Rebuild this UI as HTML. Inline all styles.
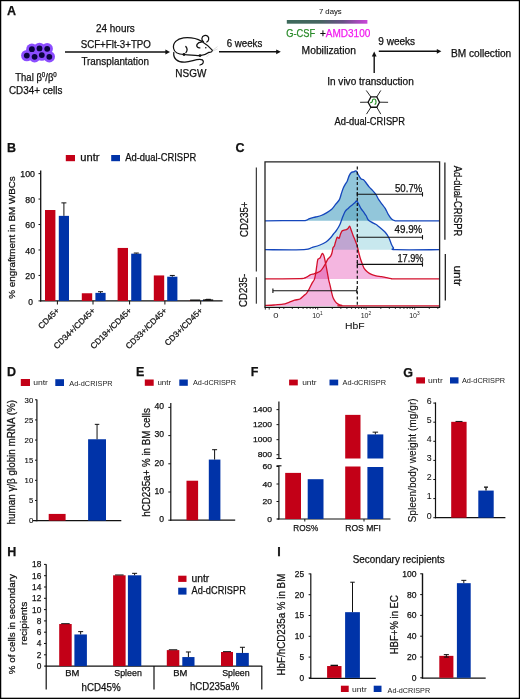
<!DOCTYPE html>
<html><head><meta charset="utf-8"><style>
html,body{margin:0;padding:0;background:#fff;}
svg{display:block;will-change:transform;}
text{font-family:"Liberation Sans", sans-serif;}
</style></head><body>
<svg width="520" height="699" viewBox="0 0 520 699" font-family='"Liberation Sans", sans-serif'>
<rect width="520" height="699" fill="#fff"/>
<text x="7.00" y="15.20" font-size="12.5" font-weight="bold" fill="#111" stroke="#111" stroke-width="0.25">A</text>
<circle cx="26.8" cy="55.6" r="5.7" fill="#8C4DFF"/>
<circle cx="34.6" cy="56.8" r="5.7" fill="#8C4DFF"/>
<circle cx="41.8" cy="55.1" r="5.7" fill="#8C4DFF"/>
<circle cx="49.3" cy="56.8" r="5.7" fill="#8C4DFF"/>
<circle cx="31.9" cy="49.2" r="5.7" fill="#8C4DFF"/>
<circle cx="39.5" cy="48.4" r="5.7" fill="#8C4DFF"/>
<circle cx="47.2" cy="48.8" r="5.7" fill="#8C4DFF"/>
<circle cx="26.8" cy="55.6" r="2.9" fill="#0B0440"/>
<circle cx="34.6" cy="56.8" r="2.9" fill="#0B0440"/>
<circle cx="41.8" cy="55.1" r="2.9" fill="#0B0440"/>
<circle cx="49.3" cy="56.8" r="2.9" fill="#0B0440"/>
<circle cx="31.9" cy="49.2" r="2.9" fill="#0B0440"/>
<circle cx="39.5" cy="48.4" r="2.9" fill="#0B0440"/>
<circle cx="47.2" cy="48.8" r="2.9" fill="#0B0440"/>
<text x="15.30" y="80.60" font-size="10" textLength="41.50" lengthAdjust="spacingAndGlyphs" fill="#111" stroke="#111" stroke-width="0.25">Thal β<tspan font-size="6.5" dy="-3.8">0</tspan><tspan dy="3.8">/β</tspan><tspan font-size="6.5" dy="-3.8">0</tspan></text>
<text x="8.90" y="94.40" font-size="10" textLength="53.50" lengthAdjust="spacingAndGlyphs" fill="#111" stroke="#111" stroke-width="0.25">CD34+ cells</text>
<line x1="65.00" y1="52.00" x2="167.00" y2="52.00" stroke="#111" stroke-width="1.4"/>
<path d="M170,52 L165.4,49.6 L165.4,54.4 Z" fill="#111"/>
<text x="96.00" y="31.90" font-size="10" textLength="38.70" lengthAdjust="spacingAndGlyphs" fill="#111" stroke="#111" stroke-width="0.25">24 hours</text>
<text x="80.70" y="48.10" font-size="10" textLength="70.20" lengthAdjust="spacingAndGlyphs" fill="#111" stroke="#111" stroke-width="0.25">SCF+Flt-3+TPO</text>
<text x="81.40" y="65.00" font-size="10" textLength="67.60" lengthAdjust="spacingAndGlyphs" fill="#111" stroke="#111" stroke-width="0.25">Transplantation</text>
<g fill="none" stroke="#111" stroke-width="1.25" stroke-linecap="round" stroke-linejoin="round"><path d="M201.5,41.2 C197,38.5 190,37.2 183.5,37.8 C177,38.6 172.5,43 173.6,48.5 C174.3,52 177.5,54.2 184,54.5 C190,55 196,55.6 200,55.6 C203.5,55.5 206.5,54.3 208.6,52.6"/><path d="M201.5,41.2 C205.5,43.5 209.5,47 212.5,50.4 C212,52.2 210.2,52.6 208.6,52.3"/><path d="M203.5,41.8 C201.2,40.5 201.3,36.5 204.2,35.6 C207,34.8 209.3,37 208.6,39.6 C208.3,40.8 207.6,41.6 206.8,42"/><path d="M201.3,42.2 C197.5,42.3 195.6,45.6 197.6,47.3 C198.3,47.9 199.1,48 199.9,47.8"/><path d="M185.8,46.5 C187.3,48.3 187.2,51 185.9,52.6"/><path d="M173.8,52.5 C173,58.5 177.5,62.5 185,62.2 C192,61.7 197.5,58.2 202.3,59.8 C204.5,61.8 203,64.5 200,65"/></g>
<circle cx="184" cy="54.5" r="1.45" fill="#111"/><circle cx="200" cy="55.6" r="1.45" fill="#111"/>
<circle cx="205.8" cy="47.8" r="0.8" fill="#111"/>
<path d="M212.8,50.2 L217.5,46.6 M212.8,51 L217.5,49 M209.5,53.8 L206.5,57" stroke="#c8c8c8" stroke-width="0.6"/>
<text x="175.30" y="76.50" font-size="10" textLength="31.00" lengthAdjust="spacingAndGlyphs" fill="#111" stroke="#111" stroke-width="0.25">NSGW</text>
<text x="226.70" y="47.00" font-size="10" textLength="35.60" lengthAdjust="spacingAndGlyphs" fill="#111" stroke="#111" stroke-width="0.25">6 weeks</text>
<line x1="219.00" y1="51.80" x2="277.80" y2="51.80" stroke="#111" stroke-width="1.4"/>
<path d="M280.8,51.8 L276.2,49.4 L276.2,54.199999999999996 Z" fill="#111"/>
<defs><linearGradient id="gb" x1="0" x2="1" y1="0" y2="0"><stop offset="0" stop-color="#3D695B"/><stop offset="0.4" stop-color="#456560"/><stop offset="0.7" stop-color="#6A5088"/><stop offset="1" stop-color="#CC45DA"/></linearGradient></defs>
<rect x="286.80" y="20.00" width="80.60" height="3.70" fill="url(#gb)"/>
<text x="318.90" y="13.70" font-size="7.2" textLength="22.80" lengthAdjust="spacingAndGlyphs" fill="#111" stroke="#111" stroke-width="0.05">7 days</text>
<text x="286.20" y="36.70" font-size="10" textLength="28.90" lengthAdjust="spacingAndGlyphs" fill="#2A8A2A" stroke="#2A8A2A" stroke-width="0.25">G-CSF</text>
<text x="319.90" y="36.70" font-size="10" textLength="5.80" lengthAdjust="spacingAndGlyphs" fill="#111" stroke="#111" stroke-width="0.25">+</text>
<text x="325.70" y="36.70" font-size="10" textLength="44.60" lengthAdjust="spacingAndGlyphs" fill="#F21CF0" stroke="#F21CF0" stroke-width="0.25">AMD3100</text>
<text x="301.60" y="54.40" font-size="10" textLength="54.30" lengthAdjust="spacingAndGlyphs" fill="#111" stroke="#111" stroke-width="0.25">Mobilization</text>
<text x="378.30" y="45.00" font-size="10" textLength="36.80" lengthAdjust="spacingAndGlyphs" fill="#111" stroke="#111" stroke-width="0.25">9 weeks</text>
<line x1="378.80" y1="51.30" x2="438.40" y2="51.30" stroke="#111" stroke-width="1.4"/>
<path d="M441.4,51.3 L436.79999999999995,48.9 L436.79999999999995,53.699999999999996 Z" fill="#111"/>
<text x="451.00" y="56.50" font-size="10" textLength="60.20" lengthAdjust="spacingAndGlyphs" fill="#111" stroke="#111" stroke-width="0.25">BM collection</text>
<line x1="374.20" y1="73.00" x2="374.20" y2="55.00" stroke="#111" stroke-width="1.4"/>
<path d="M374.2,51.6 L371.8,56.4 L376.6,56.4 Z" fill="#111"/>
<text x="327.20" y="85.00" font-size="10" textLength="86.60" lengthAdjust="spacingAndGlyphs" fill="#111" stroke="#111" stroke-width="0.25">In vivo transduction</text>
<g stroke="#111" stroke-width="0.9" stroke-linecap="round"><line x1="368.1" y1="102.2" x2="360.5" y2="102.3"/><line x1="379.5" y1="102.2" x2="387.7" y2="102.3"/><line x1="370.9" y1="96.9" x2="366.5" y2="90.8"/><line x1="376.8" y1="96.9" x2="380.6" y2="90.8"/><line x1="370.9" y1="107.25" x2="366.7" y2="113.8"/><line x1="376.8" y1="107.25" x2="380.6" y2="113.8"/></g>
<polygon points="368.1,102.2 370.9,96.9 376.8,96.9 379.5,102.2 376.8,107.25 370.9,107.25" fill="#fff" stroke="#111" stroke-width="1.3"/>
<path d="M370.4,102.7 C372,102.7 372.5,101.5 372.5,100.3 C372.5,98.6 375.5,98.6 375.8,100.3 C376.2,102 376.3,103.5 375,104.3" fill="none" stroke="#1E8C1E" stroke-width="1.1" stroke-linecap="round"/>
<text x="334.50" y="125.40" font-size="10" textLength="70.60" lengthAdjust="spacingAndGlyphs" fill="#111" stroke="#111" stroke-width="0.25">Ad-dual-CRISPR</text>
<text x="7.00" y="151.50" font-size="12.5" font-weight="bold" fill="#111" stroke="#111" stroke-width="0.25">B</text>
<rect x="65.80" y="155.00" width="9.20" height="6.20" fill="#C30017"/>
<text x="80.30" y="160.80" font-size="10" textLength="19.20" lengthAdjust="spacingAndGlyphs" fill="#111" stroke="#111" stroke-width="0.25">untr</text>
<rect x="111.20" y="155.00" width="8.80" height="6.20" fill="#0033A8"/>
<text x="125.20" y="160.70" font-size="10" textLength="71.00" lengthAdjust="spacingAndGlyphs" fill="#111" stroke="#111" stroke-width="0.25">Ad-dual-CRISPR</text>
<line x1="40.70" y1="170.40" x2="40.70" y2="301.50" stroke="#111" stroke-width="1.3"/>
<line x1="40.10" y1="300.90" x2="222.60" y2="300.90" stroke="#111" stroke-width="1.3"/>
<line x1="38.50" y1="300.90" x2="40.70" y2="300.90" stroke="#111" stroke-width="1"/>
<text x="33.00" y="304.50" font-size="8.2" text-anchor="end" textLength="4.70" lengthAdjust="spacingAndGlyphs" fill="#111" stroke="#111" stroke-width="0.25">0</text>
<line x1="38.50" y1="275.44" x2="40.70" y2="275.44" stroke="#111" stroke-width="1"/>
<text x="35.00" y="279.04" font-size="8.2" text-anchor="end" textLength="9.70" lengthAdjust="spacingAndGlyphs" fill="#111" stroke="#111" stroke-width="0.25">20</text>
<line x1="38.50" y1="249.98" x2="40.70" y2="249.98" stroke="#111" stroke-width="1"/>
<text x="35.00" y="253.58" font-size="8.2" text-anchor="end" textLength="9.70" lengthAdjust="spacingAndGlyphs" fill="#111" stroke="#111" stroke-width="0.25">40</text>
<line x1="38.50" y1="224.52" x2="40.70" y2="224.52" stroke="#111" stroke-width="1"/>
<text x="35.00" y="228.12" font-size="8.2" text-anchor="end" textLength="9.70" lengthAdjust="spacingAndGlyphs" fill="#111" stroke="#111" stroke-width="0.25">60</text>
<line x1="38.50" y1="199.06" x2="40.70" y2="199.06" stroke="#111" stroke-width="1"/>
<text x="35.00" y="202.66" font-size="8.2" text-anchor="end" textLength="9.70" lengthAdjust="spacingAndGlyphs" fill="#111" stroke="#111" stroke-width="0.25">80</text>
<line x1="38.50" y1="173.60" x2="40.70" y2="173.60" stroke="#111" stroke-width="1"/>
<text x="35.00" y="177.20" font-size="8.2" text-anchor="end" textLength="14.70" lengthAdjust="spacingAndGlyphs" fill="#111" stroke="#111" stroke-width="0.25">100</text>
<rect x="45.00" y="210.01" width="10.40" height="90.89" fill="#C30017"/>
<rect x="58.80" y="215.86" width="10.20" height="85.04" fill="#0033A8"/>
<line x1="63.90" y1="215.86" x2="63.90" y2="202.88" stroke="#111" stroke-width="1.0"/>
<line x1="61.40" y1="202.88" x2="66.40" y2="202.88" stroke="#111" stroke-width="1.0"/>
<line x1="57.40" y1="300.90" x2="57.40" y2="304.50" stroke="#111" stroke-width="1"/>
<rect x="81.80" y="293.26" width="10.40" height="7.64" fill="#C30017"/>
<rect x="95.40" y="292.88" width="10.20" height="8.02" fill="#0033A8"/>
<line x1="100.50" y1="292.88" x2="100.50" y2="291.73" stroke="#111" stroke-width="1.0"/>
<line x1="98.00" y1="291.73" x2="103.00" y2="291.73" stroke="#111" stroke-width="1.0"/>
<line x1="93.00" y1="300.90" x2="93.00" y2="304.50" stroke="#111" stroke-width="1"/>
<rect x="117.60" y="247.94" width="10.40" height="52.96" fill="#C30017"/>
<rect x="131.20" y="253.67" width="10.20" height="47.23" fill="#0033A8"/>
<line x1="136.30" y1="253.67" x2="136.30" y2="253.04" stroke="#111" stroke-width="1.0"/>
<line x1="133.80" y1="253.04" x2="138.80" y2="253.04" stroke="#111" stroke-width="1.0"/>
<line x1="129.60" y1="300.90" x2="129.60" y2="304.50" stroke="#111" stroke-width="1"/>
<rect x="153.80" y="275.44" width="10.40" height="25.46" fill="#C30017"/>
<rect x="167.20" y="276.71" width="10.20" height="24.19" fill="#0033A8"/>
<line x1="172.30" y1="276.71" x2="172.30" y2="275.44" stroke="#111" stroke-width="1.0"/>
<line x1="169.80" y1="275.44" x2="174.80" y2="275.44" stroke="#111" stroke-width="1.0"/>
<line x1="164.90" y1="300.90" x2="164.90" y2="304.50" stroke="#111" stroke-width="1"/>
<rect x="189.60" y="300.26" width="10.40" height="0.64" fill="#C30017"/>
<rect x="202.30" y="300.14" width="10.20" height="0.76" fill="#0033A8"/>
<line x1="207.40" y1="300.14" x2="207.40" y2="299.75" stroke="#111" stroke-width="1.0"/>
<line x1="204.90" y1="299.75" x2="209.90" y2="299.75" stroke="#111" stroke-width="1.0"/>
<line x1="200.70" y1="300.90" x2="200.70" y2="304.50" stroke="#111" stroke-width="1"/>
<rect x="190.10" y="299.50" width="10.10" height="1.50" fill="#151515"/>
<rect x="203.00" y="299.40" width="10.20" height="1.60" fill="#151515"/>
<rect x="206.00" y="298.80" width="4.80" height="1.20" fill="#151515"/>
<text x="60.00" y="311.00" font-size="8.3" text-anchor="end" transform="rotate(-45 60.0 311.0)" fill="#111" stroke="#111" stroke-width="0.25">CD45+</text>
<text x="95.60" y="311.00" font-size="8.3" text-anchor="end" transform="rotate(-45 95.6 311.0)" fill="#111" stroke="#111" stroke-width="0.25">CD34+/CD45+</text>
<text x="132.20" y="311.00" font-size="8.3" text-anchor="end" transform="rotate(-45 132.2 311.0)" fill="#111" stroke="#111" stroke-width="0.25">CD19+/CD45+</text>
<text x="167.50" y="311.00" font-size="8.3" text-anchor="end" transform="rotate(-45 167.5 311.0)" fill="#111" stroke="#111" stroke-width="0.25">CD33+/CD45+</text>
<text x="203.30" y="311.00" font-size="8.3" text-anchor="end" transform="rotate(-45 203.29999999999998 311.0)" fill="#111" stroke="#111" stroke-width="0.25">CD3+/CD45+</text>
<text x="15.20" y="237.50" font-size="9.5" text-anchor="middle" textLength="122.60" lengthAdjust="spacingAndGlyphs" transform="rotate(-90 15.2 237.5)" fill="#111" stroke="#111" stroke-width="0.25">% engraftment in BM WBCs</text>
<text x="235.50" y="151.70" font-size="12.5" font-weight="bold" fill="#111" stroke="#111" stroke-width="0.25">C</text>
<g style="isolation:isolate">
<path d="M265.00,220.80 C270.25,220.77 293.88,220.66 300.00,220.60 C306.12,220.54 304.36,220.70 305.80,220.40 C307.24,220.10 308.16,219.11 309.60,218.60 C311.04,218.09 313.66,217.47 315.40,217.00 C317.14,216.53 319.47,216.16 321.20,215.50 C322.93,214.84 325.32,213.54 326.90,212.60 C328.47,211.66 330.39,210.43 331.70,209.20 C333.00,207.97 334.45,205.84 335.60,204.40 C336.75,202.96 338.54,201.19 339.40,199.60 C340.25,198.01 340.72,195.53 341.30,193.80 C341.88,192.08 342.72,189.51 343.30,188.10 C343.88,186.69 344.60,185.48 345.20,184.40 C345.80,183.32 346.70,182.22 347.30,180.90 C347.90,179.58 348.60,176.88 349.20,175.60 C349.80,174.32 350.66,172.96 351.30,172.40 C351.94,171.84 352.86,172.14 353.50,171.90 C354.14,171.66 355.14,170.89 355.60,170.80 C356.06,170.71 356.21,170.75 356.60,171.30 C356.99,171.86 357.56,173.38 358.20,174.50 C358.84,175.62 360.10,178.00 360.90,178.80 C361.69,179.60 362.70,179.17 363.50,179.80 C364.30,180.43 365.33,181.89 366.20,183.00 C367.07,184.11 368.36,186.09 369.30,187.20 C370.25,188.31 371.54,189.37 372.50,190.40 C373.46,191.44 374.74,192.67 375.70,194.10 C376.66,195.53 377.95,198.39 378.90,199.90 C379.84,201.41 381.06,202.92 382.00,204.20 C382.94,205.47 384.24,206.83 385.20,208.40 C386.16,209.97 387.44,213.11 388.40,214.70 C389.36,216.29 390.66,218.12 391.60,219.00 C392.55,219.88 393.44,220.33 394.70,220.60 C395.96,220.87 393.20,220.77 400.00,220.80 C406.80,220.83 434.00,220.80 440.00,220.80 L440,220.8 L265,220.8 Z" fill="#92C6DA" stroke="none" style="mix-blend-mode:multiply"/>
<path d="M265.00,249.70 C270.85,249.70 296.95,250.03 304.00,249.70 C311.05,249.37 309.60,248.20 312.00,247.50 C314.40,246.80 317.90,245.82 320.00,245.00 C322.10,244.18 324.44,243.05 326.00,242.00 C327.56,240.95 329.27,239.20 330.40,238.00 C331.52,236.80 332.66,235.05 333.50,234.00 C334.34,232.95 335.32,231.90 336.00,231.00 C336.68,230.10 337.42,228.96 338.00,228.00 C338.58,227.04 339.25,226.11 339.90,224.60 C340.54,223.09 341.50,219.88 342.30,217.90 C343.10,215.92 344.31,212.83 345.20,211.40 C346.08,209.97 347.28,209.25 348.20,208.40 C349.12,207.55 350.36,206.50 351.30,205.70 C352.25,204.90 353.70,203.81 354.50,203.10 C355.30,202.39 355.96,200.84 356.60,201.00 C357.25,201.16 358.16,203.09 358.80,204.20 C359.44,205.31 360.12,207.14 360.90,208.40 C361.68,209.66 363.20,211.49 364.00,212.60 C364.80,213.71 365.56,214.69 366.20,215.80 C366.84,216.91 367.50,219.06 368.30,220.00 C369.10,220.94 370.39,221.45 371.50,222.10 C372.61,222.75 374.57,223.59 375.70,224.30 C376.82,225.01 377.98,225.98 379.00,226.80 C380.02,227.62 381.48,228.87 382.50,229.80 C383.52,230.73 384.88,231.89 385.80,233.00 C386.72,234.11 387.97,236.07 388.60,237.20 C389.23,238.32 389.56,239.42 390.00,240.50 C390.44,241.58 390.98,243.28 391.50,244.40 C392.02,245.53 392.86,247.21 393.50,248.00 C394.14,248.79 388.82,249.44 395.80,249.70 C402.78,249.95 433.37,249.70 440.00,249.70 L440,249.7 L265,249.7 Z" fill="#C8E8EE" stroke="none" style="mix-blend-mode:multiply"/>
<path d="M265.00,278.90 C270.25,278.87 294.05,278.83 300.00,278.70 C305.95,278.56 303.59,278.31 304.70,278.00 C305.81,277.69 306.57,277.08 307.40,276.60 C308.22,276.12 309.21,275.22 310.20,274.80 C311.19,274.38 313.02,274.09 314.00,273.80 C314.98,273.51 315.72,273.32 316.70,272.90 C317.68,272.48 319.51,271.84 320.50,271.00 C321.49,270.16 322.48,268.55 323.30,267.30 C324.12,266.06 325.31,263.94 326.00,262.70 C326.69,261.45 327.19,259.98 327.90,259.00 C328.60,258.02 330.07,257.19 330.70,256.20 C331.33,255.21 331.75,253.66 332.10,252.40 C332.45,251.14 332.66,248.78 333.00,247.80 C333.34,246.83 334.02,246.77 334.40,245.90 C334.77,245.03 335.08,243.29 335.50,242.00 C335.92,240.71 336.66,237.86 337.20,237.30 C337.74,236.75 338.61,238.80 339.10,238.30 C339.60,237.81 340.06,235.09 340.50,234.00 C340.94,232.91 341.48,231.57 342.00,231.00 C342.52,230.43 343.36,230.41 344.00,230.20 C344.64,229.99 345.70,229.85 346.30,229.60 C346.90,229.34 347.49,229.00 348.00,228.50 C348.51,228.00 349.18,225.93 349.70,226.30 C350.22,226.68 350.99,229.63 351.50,231.00 C352.01,232.37 352.58,234.05 353.10,235.40 C353.62,236.75 354.43,238.56 355.00,240.00 C355.57,241.44 356.33,243.09 356.90,245.00 C357.47,246.91 358.26,250.60 358.80,252.70 C359.34,254.80 359.94,257.23 360.50,259.00 C361.06,260.77 361.93,263.05 362.50,264.50 C363.07,265.95 363.55,267.57 364.30,268.70 C365.05,269.82 366.44,271.14 367.50,272.00 C368.56,272.86 370.12,273.83 371.40,274.40 C372.67,274.97 374.49,275.47 376.00,275.80 C377.51,276.13 380.00,276.33 381.50,276.60 C383.00,276.87 384.50,277.29 386.00,277.60 C387.50,277.92 390.15,278.50 391.50,278.70 C392.85,278.89 387.73,278.87 395.00,278.90 C402.27,278.93 433.25,278.90 440.00,278.90 L440,278.9 L265,278.9 Z" fill="#F4B6E0" stroke="none" style="mix-blend-mode:multiply"/>
<path d="M265.00,305.40 C266.35,305.34 271.30,305.18 274.00,305.00 C276.70,304.82 280.75,304.60 283.00,304.20 C285.25,303.80 287.26,302.90 289.00,302.30 C290.74,301.70 292.95,300.69 294.60,300.20 C296.25,299.70 298.63,299.68 300.00,299.00 C301.37,298.32 302.72,296.54 303.70,295.70 C304.68,294.86 305.66,294.45 306.50,293.40 C307.34,292.35 308.46,290.25 309.30,288.70 C310.14,287.15 311.34,284.50 312.10,283.10 C312.87,281.71 313.84,280.93 314.40,279.40 C314.95,277.87 315.45,274.85 315.80,272.90 C316.15,270.95 316.41,268.35 316.70,266.40 C316.99,264.45 317.41,261.04 317.70,259.90 C317.99,258.76 318.25,259.09 318.60,258.80 C318.95,258.51 319.66,258.39 320.00,258.00 C320.34,257.61 320.55,256.89 320.90,256.20 C321.25,255.51 321.88,253.55 322.30,253.40 C322.72,253.25 323.34,254.36 323.70,255.20 C324.06,256.04 324.35,257.45 324.70,259.00 C325.05,260.55 325.60,263.42 326.00,265.50 C326.40,267.58 326.98,270.68 327.40,272.90 C327.82,275.12 328.38,278.35 328.80,280.30 C329.22,282.25 329.78,284.08 330.20,285.90 C330.62,287.71 331.18,290.64 331.60,292.40 C332.02,294.15 332.44,296.21 333.00,297.60 C333.56,299.00 334.54,300.72 335.30,301.70 C336.06,302.68 337.11,303.53 338.10,304.10 C339.09,304.67 340.87,305.23 341.90,305.50 C342.93,305.77 330.29,305.84 345.00,305.90 C359.71,305.96 425.75,305.90 440.00,305.90 L440,305.9 L265,305.9 Z" fill="#F4B6E0" stroke="none" style="mix-blend-mode:multiply"/>
</g>
<path d="M265.00,220.80 C270.25,220.77 293.88,220.66 300.00,220.60 C306.12,220.54 304.36,220.70 305.80,220.40 C307.24,220.10 308.16,219.11 309.60,218.60 C311.04,218.09 313.66,217.47 315.40,217.00 C317.14,216.53 319.47,216.16 321.20,215.50 C322.93,214.84 325.32,213.54 326.90,212.60 C328.47,211.66 330.39,210.43 331.70,209.20 C333.00,207.97 334.45,205.84 335.60,204.40 C336.75,202.96 338.54,201.19 339.40,199.60 C340.25,198.01 340.72,195.53 341.30,193.80 C341.88,192.08 342.72,189.51 343.30,188.10 C343.88,186.69 344.60,185.48 345.20,184.40 C345.80,183.32 346.70,182.22 347.30,180.90 C347.90,179.58 348.60,176.88 349.20,175.60 C349.80,174.32 350.66,172.96 351.30,172.40 C351.94,171.84 352.86,172.14 353.50,171.90 C354.14,171.66 355.14,170.89 355.60,170.80 C356.06,170.71 356.21,170.75 356.60,171.30 C356.99,171.86 357.56,173.38 358.20,174.50 C358.84,175.62 360.10,178.00 360.90,178.80 C361.69,179.60 362.70,179.17 363.50,179.80 C364.30,180.43 365.33,181.89 366.20,183.00 C367.07,184.11 368.36,186.09 369.30,187.20 C370.25,188.31 371.54,189.37 372.50,190.40 C373.46,191.44 374.74,192.67 375.70,194.10 C376.66,195.53 377.95,198.39 378.90,199.90 C379.84,201.41 381.06,202.92 382.00,204.20 C382.94,205.47 384.24,206.83 385.20,208.40 C386.16,209.97 387.44,213.11 388.40,214.70 C389.36,216.29 390.66,218.12 391.60,219.00 C392.55,219.88 393.44,220.33 394.70,220.60 C395.96,220.87 393.20,220.77 400.00,220.80 C406.80,220.83 434.00,220.80 440.00,220.80" fill="none" stroke="#1446BC" stroke-width="1.3"/>
<path d="M265.00,249.70 C270.85,249.70 296.95,250.03 304.00,249.70 C311.05,249.37 309.60,248.20 312.00,247.50 C314.40,246.80 317.90,245.82 320.00,245.00 C322.10,244.18 324.44,243.05 326.00,242.00 C327.56,240.95 329.27,239.20 330.40,238.00 C331.52,236.80 332.66,235.05 333.50,234.00 C334.34,232.95 335.32,231.90 336.00,231.00 C336.68,230.10 337.42,228.96 338.00,228.00 C338.58,227.04 339.25,226.11 339.90,224.60 C340.54,223.09 341.50,219.88 342.30,217.90 C343.10,215.92 344.31,212.83 345.20,211.40 C346.08,209.97 347.28,209.25 348.20,208.40 C349.12,207.55 350.36,206.50 351.30,205.70 C352.25,204.90 353.70,203.81 354.50,203.10 C355.30,202.39 355.96,200.84 356.60,201.00 C357.25,201.16 358.16,203.09 358.80,204.20 C359.44,205.31 360.12,207.14 360.90,208.40 C361.68,209.66 363.20,211.49 364.00,212.60 C364.80,213.71 365.56,214.69 366.20,215.80 C366.84,216.91 367.50,219.06 368.30,220.00 C369.10,220.94 370.39,221.45 371.50,222.10 C372.61,222.75 374.57,223.59 375.70,224.30 C376.82,225.01 377.98,225.98 379.00,226.80 C380.02,227.62 381.48,228.87 382.50,229.80 C383.52,230.73 384.88,231.89 385.80,233.00 C386.72,234.11 387.97,236.07 388.60,237.20 C389.23,238.32 389.56,239.42 390.00,240.50 C390.44,241.58 390.98,243.28 391.50,244.40 C392.02,245.53 392.86,247.21 393.50,248.00 C394.14,248.79 388.82,249.44 395.80,249.70 C402.78,249.95 433.37,249.70 440.00,249.70" fill="none" stroke="#1446BC" stroke-width="1.3"/>
<path d="M265.00,278.90 C270.25,278.87 294.05,278.83 300.00,278.70 C305.95,278.56 303.59,278.31 304.70,278.00 C305.81,277.69 306.57,277.08 307.40,276.60 C308.22,276.12 309.21,275.22 310.20,274.80 C311.19,274.38 313.02,274.09 314.00,273.80 C314.98,273.51 315.72,273.32 316.70,272.90 C317.68,272.48 319.51,271.84 320.50,271.00 C321.49,270.16 322.48,268.55 323.30,267.30 C324.12,266.06 325.31,263.94 326.00,262.70 C326.69,261.45 327.19,259.98 327.90,259.00 C328.60,258.02 330.07,257.19 330.70,256.20 C331.33,255.21 331.75,253.66 332.10,252.40 C332.45,251.14 332.66,248.78 333.00,247.80 C333.34,246.83 334.02,246.77 334.40,245.90 C334.77,245.03 335.08,243.29 335.50,242.00 C335.92,240.71 336.66,237.86 337.20,237.30 C337.74,236.75 338.61,238.80 339.10,238.30 C339.60,237.81 340.06,235.09 340.50,234.00 C340.94,232.91 341.48,231.57 342.00,231.00 C342.52,230.43 343.36,230.41 344.00,230.20 C344.64,229.99 345.70,229.85 346.30,229.60 C346.90,229.34 347.49,229.00 348.00,228.50 C348.51,228.00 349.18,225.93 349.70,226.30 C350.22,226.68 350.99,229.63 351.50,231.00 C352.01,232.37 352.58,234.05 353.10,235.40 C353.62,236.75 354.43,238.56 355.00,240.00 C355.57,241.44 356.33,243.09 356.90,245.00 C357.47,246.91 358.26,250.60 358.80,252.70 C359.34,254.80 359.94,257.23 360.50,259.00 C361.06,260.77 361.93,263.05 362.50,264.50 C363.07,265.95 363.55,267.57 364.30,268.70 C365.05,269.82 366.44,271.14 367.50,272.00 C368.56,272.86 370.12,273.83 371.40,274.40 C372.67,274.97 374.49,275.47 376.00,275.80 C377.51,276.13 380.00,276.33 381.50,276.60 C383.00,276.87 384.50,277.29 386.00,277.60 C387.50,277.92 390.15,278.50 391.50,278.70 C392.85,278.89 387.73,278.87 395.00,278.90 C402.27,278.93 433.25,278.90 440.00,278.90" fill="none" stroke="#D3102C" stroke-width="1.3"/>
<path d="M265.00,305.40 C266.35,305.34 271.30,305.18 274.00,305.00 C276.70,304.82 280.75,304.60 283.00,304.20 C285.25,303.80 287.26,302.90 289.00,302.30 C290.74,301.70 292.95,300.69 294.60,300.20 C296.25,299.70 298.63,299.68 300.00,299.00 C301.37,298.32 302.72,296.54 303.70,295.70 C304.68,294.86 305.66,294.45 306.50,293.40 C307.34,292.35 308.46,290.25 309.30,288.70 C310.14,287.15 311.34,284.50 312.10,283.10 C312.87,281.71 313.84,280.93 314.40,279.40 C314.95,277.87 315.45,274.85 315.80,272.90 C316.15,270.95 316.41,268.35 316.70,266.40 C316.99,264.45 317.41,261.04 317.70,259.90 C317.99,258.76 318.25,259.09 318.60,258.80 C318.95,258.51 319.66,258.39 320.00,258.00 C320.34,257.61 320.55,256.89 320.90,256.20 C321.25,255.51 321.88,253.55 322.30,253.40 C322.72,253.25 323.34,254.36 323.70,255.20 C324.06,256.04 324.35,257.45 324.70,259.00 C325.05,260.55 325.60,263.42 326.00,265.50 C326.40,267.58 326.98,270.68 327.40,272.90 C327.82,275.12 328.38,278.35 328.80,280.30 C329.22,282.25 329.78,284.08 330.20,285.90 C330.62,287.71 331.18,290.64 331.60,292.40 C332.02,294.15 332.44,296.21 333.00,297.60 C333.56,299.00 334.54,300.72 335.30,301.70 C336.06,302.68 337.11,303.53 338.10,304.10 C339.09,304.67 340.87,305.23 341.90,305.50 C342.93,305.77 330.29,305.84 345.00,305.90 C359.71,305.96 425.75,305.90 440.00,305.90" fill="none" stroke="#D3102C" stroke-width="1.3"/>
<path d="M265,307 L265,161.9 L439.6,161.9 L439.6,307" fill="none" stroke="#222" stroke-width="1.3"/>
<line x1="264.40" y1="307.30" x2="440.20" y2="307.30" stroke="#111" stroke-width="1.3"/>
<line x1="357.30" y1="166.50" x2="357.30" y2="306.00" stroke="#111" stroke-width="1.2" stroke-dasharray="3,2.2"/>
<line x1="357.30" y1="194.30" x2="422.50" y2="194.30" stroke="#111" stroke-width="1.1"/>
<line x1="357.30" y1="192.10" x2="357.30" y2="196.50" stroke="#111" stroke-width="1.1"/>
<line x1="422.50" y1="192.10" x2="422.50" y2="196.50" stroke="#111" stroke-width="1.1"/>
<line x1="357.30" y1="237.30" x2="422.50" y2="237.30" stroke="#111" stroke-width="1.1"/>
<line x1="357.30" y1="235.10" x2="357.30" y2="239.50" stroke="#111" stroke-width="1.1"/>
<line x1="422.50" y1="235.10" x2="422.50" y2="239.50" stroke="#111" stroke-width="1.1"/>
<line x1="357.30" y1="264.40" x2="422.50" y2="264.40" stroke="#111" stroke-width="1.1"/>
<line x1="357.30" y1="262.20" x2="357.30" y2="266.60" stroke="#111" stroke-width="1.1"/>
<line x1="422.50" y1="262.20" x2="422.50" y2="266.60" stroke="#111" stroke-width="1.1"/>
<line x1="272.90" y1="290.80" x2="356.80" y2="290.80" stroke="#111" stroke-width="1.1"/>
<line x1="272.90" y1="288.60" x2="272.90" y2="293.00" stroke="#111" stroke-width="1.1"/>
<line x1="356.80" y1="288.60" x2="356.80" y2="293.00" stroke="#111" stroke-width="1.1"/>
<text x="395.00" y="192.20" font-size="10" textLength="27.30" lengthAdjust="spacingAndGlyphs" fill="#111" stroke="#111" stroke-width="0.25">50.7%</text>
<text x="394.50" y="233.30" font-size="10" textLength="27.80" lengthAdjust="spacingAndGlyphs" fill="#111" stroke="#111" stroke-width="0.25">49.9%</text>
<text x="397.40" y="261.80" font-size="10" textLength="26.10" lengthAdjust="spacingAndGlyphs" fill="#111" stroke="#111" stroke-width="0.25">17.9%</text>
<line x1="269.20" y1="307.00" x2="269.20" y2="309.60" stroke="#111" stroke-width="0.8"/>
<line x1="283.80" y1="307.00" x2="283.80" y2="309.00" stroke="#111" stroke-width="0.8"/>
<line x1="292.34" y1="307.00" x2="292.34" y2="309.00" stroke="#111" stroke-width="0.8"/>
<line x1="298.40" y1="307.00" x2="298.40" y2="309.00" stroke="#111" stroke-width="0.8"/>
<line x1="303.10" y1="307.00" x2="303.10" y2="309.00" stroke="#111" stroke-width="0.8"/>
<line x1="306.94" y1="307.00" x2="306.94" y2="309.00" stroke="#111" stroke-width="0.8"/>
<line x1="310.19" y1="307.00" x2="310.19" y2="309.00" stroke="#111" stroke-width="0.8"/>
<line x1="313.00" y1="307.00" x2="313.00" y2="309.00" stroke="#111" stroke-width="0.8"/>
<line x1="315.48" y1="307.00" x2="315.48" y2="309.00" stroke="#111" stroke-width="0.8"/>
<line x1="317.70" y1="307.00" x2="317.70" y2="309.60" stroke="#111" stroke-width="0.8"/>
<line x1="332.30" y1="307.00" x2="332.30" y2="309.00" stroke="#111" stroke-width="0.8"/>
<line x1="340.84" y1="307.00" x2="340.84" y2="309.00" stroke="#111" stroke-width="0.8"/>
<line x1="346.90" y1="307.00" x2="346.90" y2="309.00" stroke="#111" stroke-width="0.8"/>
<line x1="351.60" y1="307.00" x2="351.60" y2="309.00" stroke="#111" stroke-width="0.8"/>
<line x1="355.44" y1="307.00" x2="355.44" y2="309.00" stroke="#111" stroke-width="0.8"/>
<line x1="358.69" y1="307.00" x2="358.69" y2="309.00" stroke="#111" stroke-width="0.8"/>
<line x1="361.50" y1="307.00" x2="361.50" y2="309.00" stroke="#111" stroke-width="0.8"/>
<line x1="363.98" y1="307.00" x2="363.98" y2="309.00" stroke="#111" stroke-width="0.8"/>
<line x1="366.20" y1="307.00" x2="366.20" y2="309.60" stroke="#111" stroke-width="0.8"/>
<line x1="380.80" y1="307.00" x2="380.80" y2="309.00" stroke="#111" stroke-width="0.8"/>
<line x1="389.34" y1="307.00" x2="389.34" y2="309.00" stroke="#111" stroke-width="0.8"/>
<line x1="395.40" y1="307.00" x2="395.40" y2="309.00" stroke="#111" stroke-width="0.8"/>
<line x1="400.10" y1="307.00" x2="400.10" y2="309.00" stroke="#111" stroke-width="0.8"/>
<line x1="403.94" y1="307.00" x2="403.94" y2="309.00" stroke="#111" stroke-width="0.8"/>
<line x1="407.19" y1="307.00" x2="407.19" y2="309.00" stroke="#111" stroke-width="0.8"/>
<line x1="410.00" y1="307.00" x2="410.00" y2="309.00" stroke="#111" stroke-width="0.8"/>
<line x1="412.48" y1="307.00" x2="412.48" y2="309.00" stroke="#111" stroke-width="0.8"/>
<line x1="414.70" y1="307.00" x2="414.70" y2="309.60" stroke="#111" stroke-width="0.8"/>
<line x1="429.30" y1="307.00" x2="429.30" y2="309.00" stroke="#111" stroke-width="0.8"/>
<line x1="437.84" y1="307.00" x2="437.84" y2="309.00" stroke="#111" stroke-width="0.8"/>
<line x1="265.30" y1="307.00" x2="265.30" y2="309.60" stroke="#111" stroke-width="0.9"/>
<line x1="279.40" y1="307.00" x2="279.40" y2="309.00" stroke="#111" stroke-width="0.8"/>
<text x="273.25" y="317.80" font-size="7" textLength="5.25" lengthAdjust="spacingAndGlyphs" fill="#222">0</text>
<text x="312.20" y="317.80" font-size="7" fill="#222">10<tspan font-size="4.8" dy="-2.6">1</tspan></text>
<text x="360.70" y="317.80" font-size="7" fill="#222">10<tspan font-size="4.8" dy="-2.6">2</tspan></text>
<text x="409.20" y="317.80" font-size="7" fill="#222">10<tspan font-size="4.8" dy="-2.6">3</tspan></text>
<text x="344.90" y="328.50" font-size="9" textLength="19.60" lengthAdjust="spacingAndGlyphs" fill="#111" stroke="#111" stroke-width="0.05">HbF</text>
<line x1="256.30" y1="167.50" x2="256.30" y2="271.50" stroke="#111" stroke-width="1.0"/>
<line x1="256.30" y1="277.20" x2="256.30" y2="303.70" stroke="#111" stroke-width="1.0"/>
<text x="247.90" y="219.30" font-size="10" text-anchor="middle" textLength="35.20" lengthAdjust="spacingAndGlyphs" transform="rotate(-90 247.9 219.3)" fill="#111" stroke="#111" stroke-width="0.25">CD235+</text>
<text x="247.40" y="290.40" font-size="10" text-anchor="middle" textLength="33.20" lengthAdjust="spacingAndGlyphs" transform="rotate(-90 247.4 290.4)" fill="#111" stroke="#111" stroke-width="0.25">CD235-</text>
<line x1="444.90" y1="162.60" x2="444.90" y2="239.80" stroke="#111" stroke-width="1.2"/>
<line x1="445.30" y1="254.00" x2="445.30" y2="300.60" stroke="#111" stroke-width="1.2"/>
<text x="454.10" y="201.05" font-size="10.8" text-anchor="middle" textLength="70.50" lengthAdjust="spacingAndGlyphs" transform="rotate(90 454.1 201.05)" fill="#111" stroke="#111" stroke-width="0.25">Ad-dual-CRISPR</text>
<text x="454.10" y="275.75" font-size="10.8" text-anchor="middle" textLength="20.50" lengthAdjust="spacingAndGlyphs" transform="rotate(90 454.1 275.75)" fill="#111" stroke="#111" stroke-width="0.25">untr</text>
<text x="7.00" y="376.20" font-size="12.5" font-weight="bold" fill="#111" stroke="#111" stroke-width="0.25">D</text>
<rect x="20.80" y="379.00" width="9.20" height="7.00" fill="#C30017"/>
<text x="33.20" y="385.40" font-size="8" textLength="14.80" lengthAdjust="spacingAndGlyphs" fill="#222">untr</text>
<rect x="55.30" y="379.20" width="8.70" height="6.80" fill="#0033A8"/>
<text x="69.30" y="385.60" font-size="8" textLength="43.30" lengthAdjust="spacingAndGlyphs" fill="#222">Ad-dCRISPR</text>
<line x1="36.90" y1="399.50" x2="36.90" y2="521.20" stroke="#111" stroke-width="1.2"/>
<line x1="32.90" y1="520.60" x2="121.30" y2="520.60" stroke="#111" stroke-width="1.2"/>
<line x1="35.00" y1="520.60" x2="36.90" y2="520.60" stroke="#111" stroke-width="1"/>
<text x="33.20" y="523.40" font-size="8.0" text-anchor="end" textLength="4.30" lengthAdjust="spacingAndGlyphs" fill="#111" stroke="#111" stroke-width="0.15">0</text>
<line x1="35.00" y1="500.47" x2="36.90" y2="500.47" stroke="#111" stroke-width="1"/>
<text x="33.20" y="503.27" font-size="8.0" text-anchor="end" textLength="4.30" lengthAdjust="spacingAndGlyphs" fill="#111" stroke="#111" stroke-width="0.15">5</text>
<line x1="35.00" y1="480.33" x2="36.90" y2="480.33" stroke="#111" stroke-width="1"/>
<text x="33.20" y="483.13" font-size="8.0" text-anchor="end" textLength="8.60" lengthAdjust="spacingAndGlyphs" fill="#111" stroke="#111" stroke-width="0.15">10</text>
<line x1="35.00" y1="460.20" x2="36.90" y2="460.20" stroke="#111" stroke-width="1"/>
<text x="33.20" y="463.00" font-size="8.0" text-anchor="end" textLength="8.60" lengthAdjust="spacingAndGlyphs" fill="#111" stroke="#111" stroke-width="0.15">15</text>
<line x1="35.00" y1="440.06" x2="36.90" y2="440.06" stroke="#111" stroke-width="1"/>
<text x="33.20" y="442.86" font-size="8.0" text-anchor="end" textLength="8.60" lengthAdjust="spacingAndGlyphs" fill="#111" stroke="#111" stroke-width="0.15">20</text>
<line x1="35.00" y1="419.93" x2="36.90" y2="419.93" stroke="#111" stroke-width="1"/>
<text x="33.20" y="422.73" font-size="8.0" text-anchor="end" textLength="8.60" lengthAdjust="spacingAndGlyphs" fill="#111" stroke="#111" stroke-width="0.15">25</text>
<line x1="35.00" y1="399.79" x2="36.90" y2="399.79" stroke="#111" stroke-width="1"/>
<text x="33.20" y="402.59" font-size="8.0" text-anchor="end" textLength="8.60" lengthAdjust="spacingAndGlyphs" fill="#111" stroke="#111" stroke-width="0.15">30</text>
<rect x="48.70" y="513.92" width="16.90" height="6.68" fill="#C30017"/>
<rect x="88.10" y="439.25" width="17.90" height="81.35" fill="#0033A8"/>
<line x1="97.05" y1="439.25" x2="97.05" y2="424.35" stroke="#111" stroke-width="1.0"/>
<line x1="94.80" y1="424.35" x2="99.30" y2="424.35" stroke="#111" stroke-width="1.0"/>
<text x="15.50" y="462.20" font-size="10.3" text-anchor="middle" textLength="124.60" lengthAdjust="spacingAndGlyphs" transform="rotate(-90 15.5 462.2)" fill="#111" stroke="#111" stroke-width="0.25">human γ/β globin mRNA (%)</text>
<text x="135.90" y="376.30" font-size="12.5" font-weight="bold" fill="#111" stroke="#111" stroke-width="0.25">E</text>
<rect x="144.80" y="379.50" width="8.90" height="6.30" fill="#C30017"/>
<text x="157.40" y="385.40" font-size="8" textLength="13.70" lengthAdjust="spacingAndGlyphs" fill="#222">untr</text>
<rect x="179.30" y="379.50" width="8.50" height="6.30" fill="#0033A8"/>
<text x="193.00" y="385.40" font-size="8" textLength="42.90" lengthAdjust="spacingAndGlyphs" fill="#222">Ad-dCRISPR</text>
<line x1="170.80" y1="402.90" x2="170.80" y2="520.80" stroke="#111" stroke-width="1.2"/>
<line x1="170.20" y1="520.20" x2="235.20" y2="520.20" stroke="#111" stroke-width="1.2"/>
<line x1="168.30" y1="520.20" x2="170.80" y2="520.20" stroke="#111" stroke-width="1"/>
<text x="164.10" y="521.90" font-size="8.6" text-anchor="end" fill="#111" stroke="#111" stroke-width="0.25">0</text>
<line x1="168.30" y1="492.00" x2="170.80" y2="492.00" stroke="#111" stroke-width="1"/>
<text x="164.10" y="493.70" font-size="8.6" text-anchor="end" fill="#111" stroke="#111" stroke-width="0.25">10</text>
<line x1="168.30" y1="463.80" x2="170.80" y2="463.80" stroke="#111" stroke-width="1"/>
<text x="164.10" y="465.50" font-size="8.6" text-anchor="end" fill="#111" stroke="#111" stroke-width="0.25">20</text>
<line x1="168.30" y1="435.60" x2="170.80" y2="435.60" stroke="#111" stroke-width="1"/>
<text x="164.10" y="437.30" font-size="8.6" text-anchor="end" fill="#111" stroke="#111" stroke-width="0.25">30</text>
<line x1="168.30" y1="407.40" x2="170.80" y2="407.40" stroke="#111" stroke-width="1"/>
<text x="164.10" y="409.10" font-size="8.6" text-anchor="end" fill="#111" stroke="#111" stroke-width="0.25">40</text>
<rect x="186.50" y="480.72" width="11.60" height="39.48" fill="#C30017"/>
<rect x="208.80" y="459.57" width="11.60" height="60.63" fill="#0033A8"/>
<line x1="214.60" y1="459.57" x2="214.60" y2="449.70" stroke="#111" stroke-width="1.0"/>
<line x1="212.10" y1="449.70" x2="217.10" y2="449.70" stroke="#111" stroke-width="1.0"/>
<text x="150.20" y="462.50" font-size="10.3" text-anchor="middle" textLength="108.60" lengthAdjust="spacingAndGlyphs" transform="rotate(-90 150.2 462.5)" fill="#111" stroke="#111" stroke-width="0.25">hCD235a+ % in BM cells</text>
<text x="250.80" y="376.40" font-size="12.5" font-weight="bold" fill="#111" stroke="#111" stroke-width="0.25">F</text>
<rect x="289.10" y="379.60" width="8.70" height="5.80" fill="#C30017"/>
<text x="302.20" y="385.20" font-size="8" textLength="14.50" lengthAdjust="spacingAndGlyphs" fill="#222">untr</text>
<rect x="329.50" y="379.60" width="8.70" height="5.80" fill="#0033A8"/>
<text x="342.50" y="385.20" font-size="8" textLength="43.50" lengthAdjust="spacingAndGlyphs" fill="#222">Ad-dCRISPR</text>
<line x1="278.90" y1="401.50" x2="278.90" y2="458.50" stroke="#111" stroke-width="1.2"/>
<line x1="278.90" y1="465.80" x2="278.90" y2="519.60" stroke="#111" stroke-width="1.2"/>
<line x1="276.50" y1="454.70" x2="278.90" y2="454.70" stroke="#111" stroke-width="1"/>
<text x="271.90" y="457.30" font-size="7.6" text-anchor="end" textLength="14.25" lengthAdjust="spacingAndGlyphs" fill="#111" stroke="#111" stroke-width="0.25">800</text>
<line x1="276.50" y1="439.67" x2="278.90" y2="439.67" stroke="#111" stroke-width="1"/>
<text x="271.90" y="442.27" font-size="7.6" text-anchor="end" textLength="19.00" lengthAdjust="spacingAndGlyphs" fill="#111" stroke="#111" stroke-width="0.25">1000</text>
<line x1="276.50" y1="424.64" x2="278.90" y2="424.64" stroke="#111" stroke-width="1"/>
<text x="271.90" y="427.24" font-size="7.6" text-anchor="end" textLength="19.00" lengthAdjust="spacingAndGlyphs" fill="#111" stroke="#111" stroke-width="0.25">1200</text>
<line x1="276.50" y1="409.61" x2="278.90" y2="409.61" stroke="#111" stroke-width="1"/>
<text x="271.90" y="412.21" font-size="7.6" text-anchor="end" textLength="19.00" lengthAdjust="spacingAndGlyphs" fill="#111" stroke="#111" stroke-width="0.25">1400</text>
<line x1="276.50" y1="519.00" x2="278.90" y2="519.00" stroke="#111" stroke-width="1"/>
<text x="271.90" y="521.60" font-size="7.6" text-anchor="end" textLength="4.75" lengthAdjust="spacingAndGlyphs" fill="#111" stroke="#111" stroke-width="0.25">0</text>
<line x1="276.50" y1="501.50" x2="278.90" y2="501.50" stroke="#111" stroke-width="1"/>
<text x="271.90" y="504.10" font-size="7.6" text-anchor="end" textLength="9.50" lengthAdjust="spacingAndGlyphs" fill="#111" stroke="#111" stroke-width="0.25">20</text>
<line x1="276.50" y1="484.00" x2="278.90" y2="484.00" stroke="#111" stroke-width="1"/>
<text x="271.90" y="486.60" font-size="7.6" text-anchor="end" textLength="9.50" lengthAdjust="spacingAndGlyphs" fill="#111" stroke="#111" stroke-width="0.25">40</text>
<line x1="276.50" y1="466.50" x2="278.90" y2="466.50" stroke="#111" stroke-width="1"/>
<text x="271.90" y="469.10" font-size="7.6" text-anchor="end" textLength="9.50" lengthAdjust="spacingAndGlyphs" fill="#111" stroke="#111" stroke-width="0.25">60</text>
<line x1="276.50" y1="458.50" x2="281.50" y2="458.50" stroke="#111" stroke-width="1.1"/>
<line x1="276.50" y1="465.80" x2="281.50" y2="465.80" stroke="#111" stroke-width="1.1"/>
<line x1="277.40" y1="519.00" x2="390.50" y2="519.00" stroke="#111" stroke-width="1.2"/>
<line x1="304.80" y1="519.00" x2="304.80" y2="521.50" stroke="#111" stroke-width="1"/>
<line x1="364.00" y1="519.00" x2="364.00" y2="521.50" stroke="#111" stroke-width="1"/>
<rect x="285.20" y="472.89" width="15.80" height="46.11" fill="#C30017"/>
<rect x="307.70" y="479.19" width="15.80" height="39.81" fill="#0033A8"/>
<rect x="345.20" y="414.87" width="15.30" height="43.63" fill="#C30017"/>
<rect x="367.40" y="434.41" width="15.90" height="24.09" fill="#0033A8"/>
<rect x="345.20" y="466.50" width="15.30" height="52.50" fill="#C30017"/>
<rect x="367.40" y="467.00" width="15.90" height="52.00" fill="#0033A8"/>
<line x1="375.35" y1="434.41" x2="375.35" y2="432.15" stroke="#111" stroke-width="1.0"/>
<line x1="372.60" y1="432.15" x2="378.10" y2="432.15" stroke="#111" stroke-width="1.0"/>
<text x="293.30" y="531.40" font-size="9" textLength="25.00" lengthAdjust="spacingAndGlyphs" fill="#111" stroke="#111" stroke-width="0.25">ROS%</text>
<text x="345.30" y="531.40" font-size="9" textLength="35.60" lengthAdjust="spacingAndGlyphs" fill="#111" stroke="#111" stroke-width="0.25">ROS MFI</text>
<text x="403.30" y="376.60" font-size="12.5" font-weight="bold" fill="#111" stroke="#111" stroke-width="0.25">G</text>
<rect x="416.20" y="377.30" width="8.80" height="6.20" fill="#C30017"/>
<text x="428.00" y="383.00" font-size="8" textLength="14.80" lengthAdjust="spacingAndGlyphs" fill="#222">untr</text>
<rect x="450.00" y="377.30" width="8.50" height="6.20" fill="#0033A8"/>
<text x="461.90" y="383.00" font-size="8" textLength="43.20" lengthAdjust="spacingAndGlyphs" fill="#222">Ad-dCRISPR</text>
<line x1="435.50" y1="402.40" x2="435.50" y2="518.30" stroke="#111" stroke-width="1.2"/>
<line x1="435.00" y1="517.70" x2="505.40" y2="517.70" stroke="#111" stroke-width="1.2"/>
<line x1="433.30" y1="517.70" x2="435.50" y2="517.70" stroke="#111" stroke-width="1"/>
<text x="431.60" y="518.50" font-size="8.8" text-anchor="end" fill="#111" stroke="#111" stroke-width="0.08">0</text>
<line x1="433.30" y1="498.60" x2="435.50" y2="498.60" stroke="#111" stroke-width="1"/>
<text x="431.60" y="499.40" font-size="8.8" text-anchor="end" fill="#111" stroke="#111" stroke-width="0.08">1</text>
<line x1="433.30" y1="479.50" x2="435.50" y2="479.50" stroke="#111" stroke-width="1"/>
<text x="431.60" y="480.30" font-size="8.8" text-anchor="end" fill="#111" stroke="#111" stroke-width="0.08">2</text>
<line x1="433.30" y1="460.40" x2="435.50" y2="460.40" stroke="#111" stroke-width="1"/>
<text x="431.60" y="461.20" font-size="8.8" text-anchor="end" fill="#111" stroke="#111" stroke-width="0.08">3</text>
<line x1="433.30" y1="441.30" x2="435.50" y2="441.30" stroke="#111" stroke-width="1"/>
<text x="431.60" y="442.10" font-size="8.8" text-anchor="end" fill="#111" stroke="#111" stroke-width="0.08">4</text>
<line x1="433.30" y1="422.20" x2="435.50" y2="422.20" stroke="#111" stroke-width="1"/>
<text x="431.60" y="423.00" font-size="8.8" text-anchor="end" fill="#111" stroke="#111" stroke-width="0.08">5</text>
<line x1="433.30" y1="403.10" x2="435.50" y2="403.10" stroke="#111" stroke-width="1"/>
<text x="431.60" y="403.90" font-size="8.8" text-anchor="end" fill="#111" stroke="#111" stroke-width="0.08">6</text>
<rect x="451.20" y="421.82" width="15.40" height="95.88" fill="#C30017"/>
<line x1="455.50" y1="421.44" x2="462.50" y2="421.44" stroke="#111" stroke-width="1"/>
<rect x="478.30" y="490.58" width="15.40" height="27.12" fill="#0033A8"/>
<line x1="486.00" y1="490.58" x2="486.00" y2="487.14" stroke="#111" stroke-width="1.3"/>
<line x1="484.00" y1="487.14" x2="488.00" y2="487.14" stroke="#111" stroke-width="1.3"/>
<text x="416.20" y="460.40" font-size="10.6" text-anchor="middle" textLength="124.20" lengthAdjust="spacingAndGlyphs" transform="rotate(-90 416.2 460.4)" fill="#111" stroke="#111" stroke-width="0.12">Spleen/body weight (mg/gr)</text>
<text x="7.30" y="556.20" font-size="12.5" font-weight="bold" fill="#111" stroke="#111" stroke-width="0.25">H</text>
<line x1="46.20" y1="564.20" x2="46.20" y2="689.60" stroke="#111" stroke-width="1.2"/>
<line x1="45.60" y1="666.10" x2="262.20" y2="666.10" stroke="#111" stroke-width="1.2"/>
<line x1="154.00" y1="666.10" x2="154.00" y2="689.40" stroke="#111" stroke-width="1.2"/>
<line x1="261.80" y1="666.10" x2="261.80" y2="689.40" stroke="#111" stroke-width="1.2"/>
<line x1="44.00" y1="666.10" x2="46.20" y2="666.10" stroke="#111" stroke-width="1"/>
<text x="41.30" y="669.00" font-size="8.3" text-anchor="end" fill="#111" stroke="#111" stroke-width="0.25">0</text>
<line x1="44.00" y1="654.80" x2="46.20" y2="654.80" stroke="#111" stroke-width="1"/>
<text x="41.30" y="657.70" font-size="8.3" text-anchor="end" fill="#111" stroke="#111" stroke-width="0.25">2</text>
<line x1="44.00" y1="643.50" x2="46.20" y2="643.50" stroke="#111" stroke-width="1"/>
<text x="41.30" y="646.40" font-size="8.3" text-anchor="end" fill="#111" stroke="#111" stroke-width="0.25">4</text>
<line x1="44.00" y1="632.20" x2="46.20" y2="632.20" stroke="#111" stroke-width="1"/>
<text x="41.30" y="635.10" font-size="8.3" text-anchor="end" fill="#111" stroke="#111" stroke-width="0.25">6</text>
<line x1="44.00" y1="620.90" x2="46.20" y2="620.90" stroke="#111" stroke-width="1"/>
<text x="41.30" y="623.80" font-size="8.3" text-anchor="end" fill="#111" stroke="#111" stroke-width="0.25">8</text>
<line x1="44.00" y1="609.60" x2="46.20" y2="609.60" stroke="#111" stroke-width="1"/>
<text x="41.30" y="612.50" font-size="8.3" text-anchor="end" fill="#111" stroke="#111" stroke-width="0.25">10</text>
<line x1="44.00" y1="598.30" x2="46.20" y2="598.30" stroke="#111" stroke-width="1"/>
<text x="41.30" y="601.20" font-size="8.3" text-anchor="end" fill="#111" stroke="#111" stroke-width="0.25">12</text>
<line x1="44.00" y1="587.00" x2="46.20" y2="587.00" stroke="#111" stroke-width="1"/>
<text x="41.30" y="589.90" font-size="8.3" text-anchor="end" fill="#111" stroke="#111" stroke-width="0.25">14</text>
<line x1="44.00" y1="575.70" x2="46.20" y2="575.70" stroke="#111" stroke-width="1"/>
<text x="41.30" y="578.60" font-size="8.3" text-anchor="end" fill="#111" stroke="#111" stroke-width="0.25">16</text>
<line x1="44.00" y1="564.40" x2="46.20" y2="564.40" stroke="#111" stroke-width="1"/>
<text x="41.30" y="567.30" font-size="8.3" text-anchor="end" fill="#111" stroke="#111" stroke-width="0.25">18</text>
<rect x="59.20" y="624.01" width="12.50" height="42.09" fill="#C30017"/>
<line x1="61.20" y1="623.67" x2="69.70" y2="623.67" stroke="#111" stroke-width="1"/>
<rect x="74.40" y="634.46" width="12.50" height="31.64" fill="#0033A8"/>
<line x1="80.65" y1="634.46" x2="80.65" y2="631.63" stroke="#111" stroke-width="1.0"/>
<line x1="78.15" y1="631.63" x2="83.15" y2="631.63" stroke="#111" stroke-width="1.0"/>
<rect x="113.10" y="575.30" width="12.50" height="90.80" fill="#C30017"/>
<line x1="115.10" y1="574.97" x2="123.60" y2="574.97" stroke="#111" stroke-width="1"/>
<rect x="127.90" y="575.30" width="13.40" height="90.80" fill="#0033A8"/>
<line x1="134.60" y1="575.30" x2="134.60" y2="573.33" stroke="#111" stroke-width="1.0"/>
<line x1="132.10" y1="573.33" x2="137.10" y2="573.33" stroke="#111" stroke-width="1.0"/>
<rect x="166.80" y="650.11" width="12.50" height="15.99" fill="#C30017"/>
<line x1="168.80" y1="649.77" x2="177.30" y2="649.77" stroke="#111" stroke-width="1"/>
<rect x="182.30" y="657.06" width="12.20" height="9.04" fill="#0033A8"/>
<line x1="188.40" y1="657.06" x2="188.40" y2="651.98" stroke="#111" stroke-width="1.0"/>
<line x1="185.90" y1="651.98" x2="190.90" y2="651.98" stroke="#111" stroke-width="1.0"/>
<rect x="221.00" y="651.98" width="12.00" height="14.12" fill="#C30017"/>
<line x1="223.00" y1="651.64" x2="231.00" y2="651.64" stroke="#111" stroke-width="1"/>
<rect x="236.10" y="652.94" width="12.70" height="13.16" fill="#0033A8"/>
<line x1="242.45" y1="652.94" x2="242.45" y2="647.29" stroke="#111" stroke-width="1.0"/>
<line x1="239.95" y1="647.29" x2="244.95" y2="647.29" stroke="#111" stroke-width="1.0"/>
<text x="65.20" y="676.40" font-size="8.7" textLength="14.10" lengthAdjust="spacingAndGlyphs" fill="#111" stroke="#111" stroke-width="0.25">BM</text>
<text x="114.30" y="676.40" font-size="8.7" textLength="27.50" lengthAdjust="spacingAndGlyphs" fill="#111" stroke="#111" stroke-width="0.25">Spleen</text>
<text x="173.30" y="676.40" font-size="8.7" textLength="14.10" lengthAdjust="spacingAndGlyphs" fill="#111" stroke="#111" stroke-width="0.25">BM</text>
<text x="222.20" y="676.40" font-size="8.7" textLength="27.50" lengthAdjust="spacingAndGlyphs" fill="#111" stroke="#111" stroke-width="0.25">Spleen</text>
<text x="81.50" y="690.70" font-size="10" textLength="39.10" lengthAdjust="spacingAndGlyphs" fill="#111" stroke="#111" stroke-width="0.25">hCD45%</text>
<text x="189.90" y="690.40" font-size="10" textLength="49.40" lengthAdjust="spacingAndGlyphs" fill="#111" stroke="#111" stroke-width="0.25">hCD235a%</text>
<rect x="178.20" y="575.70" width="8.30" height="6.20" fill="#C30017"/>
<text x="191.50" y="581.90" font-size="10.2" textLength="17.80" lengthAdjust="spacingAndGlyphs" fill="#111" stroke="#111" stroke-width="0.25">untr</text>
<rect x="178.20" y="587.70" width="8.30" height="6.90" fill="#0033A8"/>
<text x="191.50" y="594.20" font-size="10.2" textLength="54.30" lengthAdjust="spacingAndGlyphs" fill="#111" stroke="#111" stroke-width="0.25">Ad-dCRISPR</text>
<text x="15.40" y="624.15" font-size="9.9" text-anchor="middle" textLength="100.10" lengthAdjust="spacingAndGlyphs" transform="rotate(-90 15.4 624.1500000000001)" fill="#111" stroke="#111" stroke-width="0.25">% of cells in secondary</text>
<text x="27.40" y="623.35" font-size="9.9" text-anchor="middle" textLength="43.10" lengthAdjust="spacingAndGlyphs" transform="rotate(-90 27.4 623.3499999999999)" fill="#111" stroke="#111" stroke-width="0.25">recipients</text>
<text x="277.20" y="556.40" font-size="12.5" font-weight="bold" fill="#111" stroke="#111" stroke-width="0.25">I</text>
<text x="352.70" y="563.00" font-size="10.4" textLength="92.10" lengthAdjust="spacingAndGlyphs" fill="#111" stroke="#111" stroke-width="0.25">Secondary recipients</text>
<line x1="310.80" y1="573.40" x2="310.80" y2="678.50" stroke="#111" stroke-width="1.2"/>
<line x1="309.10" y1="678.30" x2="375.80" y2="678.30" stroke="#111" stroke-width="1.2"/>
<line x1="308.60" y1="677.90" x2="310.80" y2="677.90" stroke="#111" stroke-width="1"/>
<text x="304.00" y="680.80" font-size="8.3" text-anchor="end" fill="#111" stroke="#111" stroke-width="0.25">0</text>
<line x1="308.60" y1="657.10" x2="310.80" y2="657.10" stroke="#111" stroke-width="1"/>
<text x="304.00" y="660.00" font-size="8.3" text-anchor="end" fill="#111" stroke="#111" stroke-width="0.25">5</text>
<line x1="308.60" y1="636.30" x2="310.80" y2="636.30" stroke="#111" stroke-width="1"/>
<text x="304.00" y="639.20" font-size="8.3" text-anchor="end" fill="#111" stroke="#111" stroke-width="0.25">10</text>
<line x1="308.60" y1="615.50" x2="310.80" y2="615.50" stroke="#111" stroke-width="1"/>
<text x="304.00" y="618.40" font-size="8.3" text-anchor="end" fill="#111" stroke="#111" stroke-width="0.25">15</text>
<line x1="308.60" y1="594.70" x2="310.80" y2="594.70" stroke="#111" stroke-width="1"/>
<text x="304.00" y="597.60" font-size="8.3" text-anchor="end" fill="#111" stroke="#111" stroke-width="0.25">20</text>
<line x1="308.60" y1="573.90" x2="310.80" y2="573.90" stroke="#111" stroke-width="1"/>
<text x="304.00" y="576.80" font-size="8.3" text-anchor="end" fill="#111" stroke="#111" stroke-width="0.25">25</text>
<rect x="327.10" y="666.04" width="14.40" height="11.86" fill="#C30017"/>
<line x1="330.50" y1="665.42" x2="338.00" y2="665.42" stroke="#111" stroke-width="1.4"/>
<rect x="345.10" y="612.17" width="14.80" height="65.73" fill="#0033A8"/>
<line x1="352.50" y1="612.17" x2="352.50" y2="582.22" stroke="#111" stroke-width="1.0"/>
<line x1="350.25" y1="582.22" x2="354.75" y2="582.22" stroke="#111" stroke-width="1.0"/>
<text x="285.40" y="624.60" font-size="10.5" text-anchor="middle" textLength="101.80" lengthAdjust="spacingAndGlyphs" transform="rotate(-90 285.4 624.6)" fill="#111" stroke="#111" stroke-width="0.25">HbF/hCD235a % in BM</text>
<line x1="422.50" y1="573.40" x2="422.50" y2="678.40" stroke="#111" stroke-width="1.4"/>
<line x1="421.70" y1="678.10" x2="485.70" y2="678.10" stroke="#111" stroke-width="1.2"/>
<line x1="420.20" y1="677.80" x2="422.50" y2="677.80" stroke="#111" stroke-width="1"/>
<text x="416.40" y="680.70" font-size="8.3" text-anchor="end" textLength="4.75" lengthAdjust="spacingAndGlyphs" fill="#111" stroke="#111" stroke-width="0.25">0</text>
<line x1="420.20" y1="657.00" x2="422.50" y2="657.00" stroke="#111" stroke-width="1"/>
<text x="416.40" y="659.90" font-size="8.3" text-anchor="end" textLength="9.50" lengthAdjust="spacingAndGlyphs" fill="#111" stroke="#111" stroke-width="0.25">20</text>
<line x1="420.20" y1="636.20" x2="422.50" y2="636.20" stroke="#111" stroke-width="1"/>
<text x="416.40" y="639.10" font-size="8.3" text-anchor="end" textLength="9.50" lengthAdjust="spacingAndGlyphs" fill="#111" stroke="#111" stroke-width="0.25">40</text>
<line x1="420.20" y1="615.40" x2="422.50" y2="615.40" stroke="#111" stroke-width="1"/>
<text x="416.40" y="618.30" font-size="8.3" text-anchor="end" textLength="9.50" lengthAdjust="spacingAndGlyphs" fill="#111" stroke="#111" stroke-width="0.25">60</text>
<line x1="420.20" y1="594.60" x2="422.50" y2="594.60" stroke="#111" stroke-width="1"/>
<text x="416.40" y="597.50" font-size="8.3" text-anchor="end" textLength="9.50" lengthAdjust="spacingAndGlyphs" fill="#111" stroke="#111" stroke-width="0.25">80</text>
<line x1="420.20" y1="573.80" x2="422.50" y2="573.80" stroke="#111" stroke-width="1"/>
<text x="416.40" y="576.70" font-size="8.3" text-anchor="end" textLength="14.25" lengthAdjust="spacingAndGlyphs" fill="#111" stroke="#111" stroke-width="0.25">100</text>
<rect x="439.30" y="655.86" width="14.10" height="21.94" fill="#C30017"/>
<line x1="446.35" y1="654.61" x2="446.35" y2="657.10" stroke="#111" stroke-width="1"/>
<line x1="443.80" y1="654.61" x2="448.90" y2="654.61" stroke="#111" stroke-width="1"/>
<line x1="443.80" y1="657.10" x2="448.90" y2="657.10" stroke="#111" stroke-width="1"/>
<rect x="456.90" y="583.16" width="13.80" height="94.64" fill="#0033A8"/>
<line x1="463.80" y1="583.16" x2="463.80" y2="580.35" stroke="#111" stroke-width="1.0"/>
<line x1="461.30" y1="580.35" x2="466.30" y2="580.35" stroke="#111" stroke-width="1.0"/>
<text x="398.20" y="624.70" font-size="10.8" text-anchor="middle" textLength="59.20" lengthAdjust="spacingAndGlyphs" transform="rotate(-90 398.2 624.7)" fill="#111" stroke="#111" stroke-width="0.25">HBF+% in EC</text>
<rect x="340.90" y="685.70" width="7.80" height="6.30" fill="#C30017"/>
<text x="352.00" y="692.40" font-size="8" textLength="14.80" lengthAdjust="spacingAndGlyphs" fill="#222">untr</text>
<rect x="373.70" y="685.70" width="7.80" height="6.30" fill="#0033A8"/>
<text x="387.60" y="692.70" font-size="8" textLength="42.50" lengthAdjust="spacingAndGlyphs" fill="#222">Ad-dCRISPR</text>
<rect x="0" y="0" width="1.25" height="699" fill="#000"/><rect x="518.8" y="0" width="1.2" height="699" fill="#000"/><rect x="0" y="0" width="520" height="1.2" fill="#000"/><rect x="0" y="697.7" width="520" height="1.3" fill="#000"/>
</svg>
</body></html>
